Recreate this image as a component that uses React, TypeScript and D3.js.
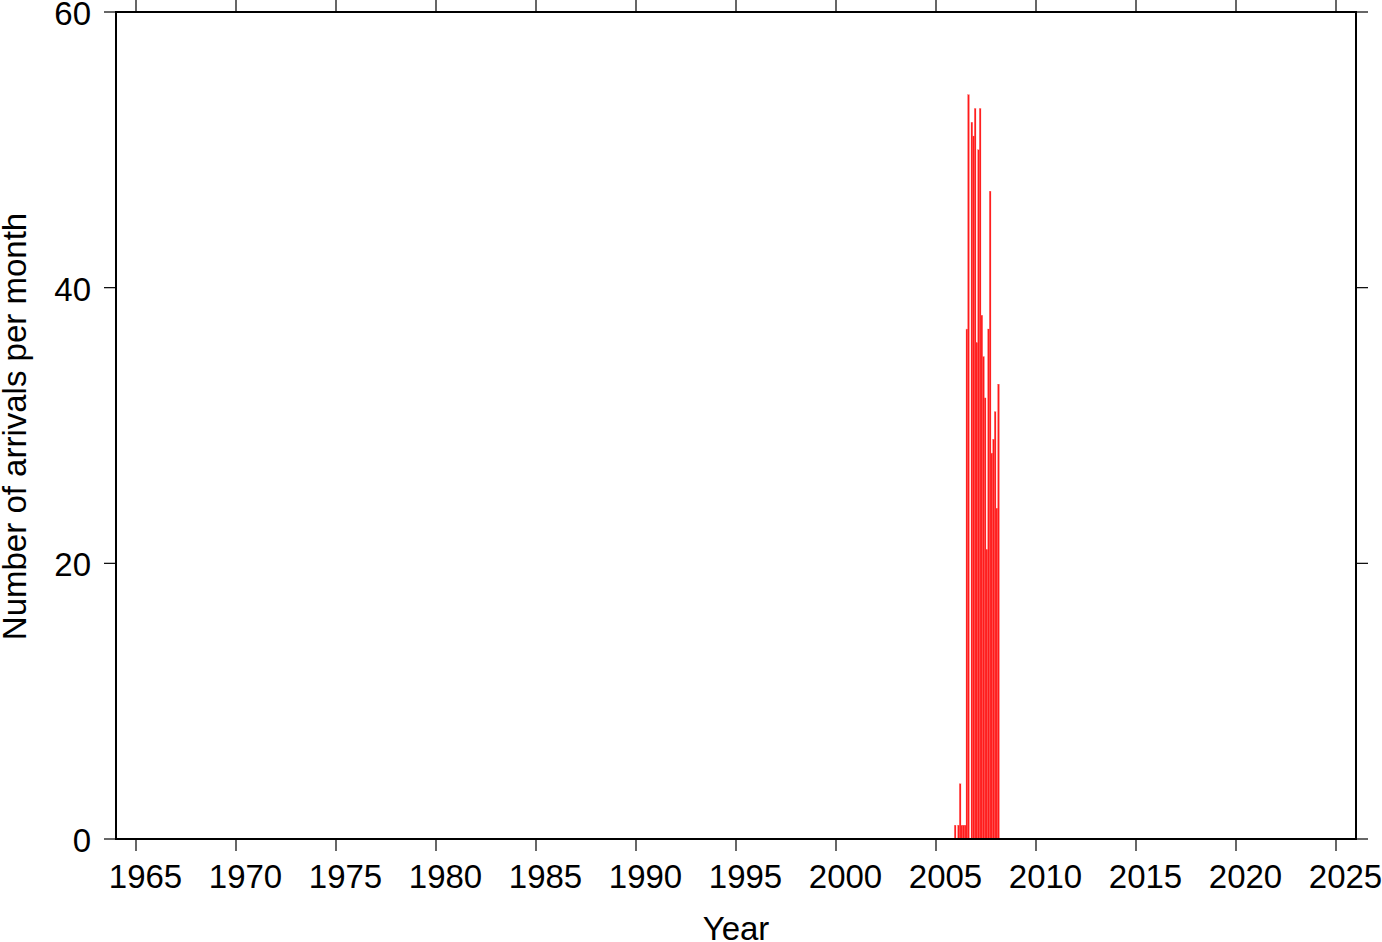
import React from "react";
import * as d3 from "d3";

const months: string[] = [
  "2005-12", "2006-01", "2006-02", "2006-03", "2006-04", "2006-05", "2006-06",
  "2006-07", "2006-08", "2006-09", "2006-10", "2006-11", "2006-12",
  "2007-01", "2007-02", "2007-03", "2007-04", "2007-05", "2007-06",
  "2007-07", "2007-08", "2007-09", "2007-10", "2007-11", "2007-12",
  "2008-01", "2008-02",
];
const counts: number[] = [
  1, 0, 1, 4, 1, 1, 1,
  37, 54, 0, 52, 51, 53,
  36, 50, 53, 38, 35, 32,
  21, 37, 47, 28, 29, 31,
  24, 33,
];
const xTicks: number[] = [1965, 1970, 1975, 1980, 1985, 1990, 1995, 2000, 2005, 2010, 2015, 2020, 2025];
const yTicks: number[] = [0, 20, 40, 60];

const W = 1382;
const H = 942;
const left = 116, right = 1356, top = 12, bottom = 839;
const FONT = "'Liberation Sans', Arial, Helvetica, sans-serif";
const FS = 33;

export default function App() {
  const x = d3.scaleLinear().domain([1964, 2026]).range([left, right]);
  const y = d3.scaleLinear().domain([0, 60]).range([bottom, top]);
  const toYear = (s: string) => {
    const [yy, mm] = s.split("-").map(Number);
    return yy + (mm - 1) / 12;
  };
  const tick = 12;
  return (
    <svg width={W} height={H} style={{ position: "absolute", left: 0, top: 0, background: "#fff" }}>
      <rect x={0} y={0} width={W} height={H} fill="#fff" />
      <g>
        {months.map((m, i) => {
          const t = toYear(m);
          const v = counts[i];
          if (v <= 0) return null;
          const x0 = x(t);
          const x1 = x(t + 1 / 12);
          return (
            <rect key={m} x={x0} y={y(v)} width={x1 - x0} height={y(0) - y(v)}
              fill="#ff1a1a" stroke="#ff5555" strokeWidth={0.25} />
          );
        })}
      </g>
      <rect x={left} y={top} width={right - left} height={bottom - top} fill="none" stroke="#000" strokeWidth={2} />
      {xTicks.map((t) => (
        <g key={t}>
          <line x1={x(t)} x2={x(t)} y1={top} y2={top - tick} stroke="#000" strokeWidth={1.2} />
          <line x1={x(t)} x2={x(t)} y1={bottom} y2={bottom + tick} stroke="#000" strokeWidth={1.2} />
          <text x={x(t) + 9.5} y={888} textAnchor="middle" fontFamily={FONT} fontSize={FS} fill="#000">{t}</text>
        </g>
      ))}
      {yTicks.map((v) => (
        <g key={v}>
          <line x1={left - tick} x2={left} y1={y(v)} y2={y(v)} stroke="#000" strokeWidth={1.2} />
          <line x1={right} x2={right + tick} y1={y(v)} y2={y(v)} stroke="#000" strokeWidth={1.2} />
          <text x={91} y={y(v) + 13} textAnchor="end" fontFamily={FONT} fontSize={FS} fill="#000">{v}</text>
        </g>
      ))}
      <text x={(left + right) / 2} y={940} textAnchor="middle" fontFamily={FONT} fontSize={FS} fill="#000">Year</text>
      <text transform={`translate(26, 426.5) rotate(-90)`} textAnchor="middle" fontFamily={FONT} fontSize={FS} fill="#000">Number of arrivals per month</text>
    </svg>
  );
}
